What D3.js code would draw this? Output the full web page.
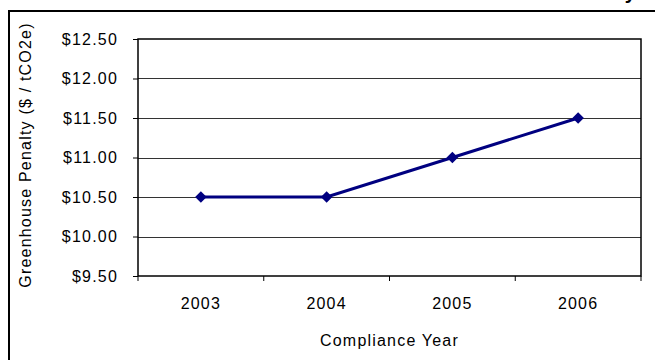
<!DOCTYPE html>
<html>
<head>
<meta charset="utf-8">
<script src="https://cdn.jsdelivr.net/npm/d3@7"></script>
<style>
  body { margin: 0; background: #fff; }
  text { font-family: "Liberation Sans", Arial, sans-serif; fill: #000; }
  .lbl { font-size: 16px; letter-spacing: 1.2px; }
</style>
</head>
<body>
<div id="chart"></div>
<script>
// data
var years = ["2003", "2004", "2005", "2006"];
var penalty = [10.5, 10.5, 11.0, 11.5];
var yTicks = [9.5, 10.0, 10.5, 11.0, 11.5, 12.0, 12.5];

var W = 655, H = 360;
var margin = { top: 39, right: 14, bottom: 84, left: 138 };
var w = W - margin.left - margin.right;
var h = H - margin.top - margin.bottom;

var svg = d3.select("#chart").append("svg")
    .attr("width", W)
    .attr("height", H);

// outer chart frame (cut off on the right and bottom)
svg.append("rect")
    .attr("x", 9).attr("y", 11)
    .attr("width", W + 10).attr("height", H + 10)
    .attr("fill", "#fff")
    .attr("stroke", "#000")
    .attr("stroke-width", 2);

// title, only its descender shows above the frame
svg.append("text")
    .attr("x", 636).attr("y", -1)
    .attr("text-anchor", "end")
    .style("font-size", "20px")
    .style("font-weight", "bold")
    .text("Greenhouse Penalty");

var g = svg.append("g")
    .attr("transform", "translate(" + margin.left + "," + margin.top + ")");

var xScale = d3.scaleBand().domain(years).range([0, w]);
var yScale = d3.scaleLinear().domain([9.5, 12.5]).range([h, 0]);

// gridlines
g.selectAll(".grid")
    .data(yTicks.slice(1, -1))
    .enter().append("line")
    .attr("class", "grid")
    .attr("x1", 0).attr("x2", w)
    .attr("y1", function(d) { return Math.round(yScale(d)) + 0.5; })
    .attr("y2", function(d) { return Math.round(yScale(d)) + 0.5; })
    .attr("stroke", "#333")
    .attr("stroke-width", 1);

// plot frame
g.append("rect")
    .attr("x", 0).attr("y", 0)
    .attr("width", w).attr("height", h)
    .attr("fill", "none")
    .attr("stroke", "#000")
    .attr("stroke-width", 1.5);

// y axis
var yAxis = d3.axisLeft(yScale)
    .tickValues(yTicks)
    .tickFormat(function(d) { return "$" + d3.format(".2f")(d); })
    .tickSize(5)
    .tickPadding(15);
var yg = g.append("g").call(yAxis);
yg.select(".domain").remove();
yg.selectAll("line").attr("stroke", "#000");
yg.selectAll("text").attr("class", "lbl");
yg.attr("font-size", null).attr("font-family", null);

// x axis: ticks on category boundaries
var xg = g.append("g")
    .attr("transform", "translate(0," + h + ")");
xg.selectAll(".xtick")
    .data(d3.range(years.length + 1))
    .enter().append("line")
    .attr("x1", function(i) { return i * xScale.bandwidth(); })
    .attr("x2", function(i) { return i * xScale.bandwidth(); })
    .attr("y1", 0).attr("y2", 5)
    .attr("stroke", "#000");
xg.selectAll(".xlabel")
    .data(years)
    .enter().append("text")
    .attr("class", "lbl")
    .attr("x", function(d) { return xScale(d) + xScale.bandwidth() / 2; })
    .attr("y", 33)
    .attr("text-anchor", "middle")
    .text(function(d) { return d; });

// axis titles
svg.append("text")
    .attr("class", "lbl")
    .attr("x", margin.left + w / 2)
    .attr("y", 346)
    .attr("text-anchor", "middle")
    .text("Compliance Year");

svg.append("text")
    .attr("class", "lbl")
    .attr("transform", "translate(31,155) rotate(-90)")
    .attr("text-anchor", "middle")
    .text("Greenhouse Penalty ($ / tCO2e)");

// line
var line = d3.line()
    .x(function(d, i) { return xScale(years[i]) + xScale.bandwidth() / 2; })
    .y(function(d) { return yScale(d); });

g.append("path")
    .datum(penalty)
    .attr("d", line)
    .attr("fill", "none")
    .attr("stroke", "#000080")
    .attr("stroke-width", 3);

// diamond markers
g.selectAll(".marker")
    .data(penalty)
    .enter().append("path")
    .attr("d", d3.symbol().type(d3.symbolSquare).size(66))
    .attr("transform", function(d, i) {
        return "translate(" + (xScale(years[i]) + xScale.bandwidth() / 2) + "," + yScale(d) + ") rotate(45)";
    })
    .attr("fill", "#000080");
</script>
</body>
</html>
